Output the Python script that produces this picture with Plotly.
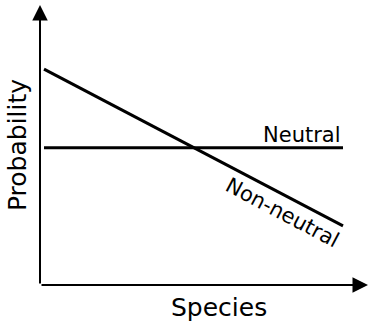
import plotly.graph_objects as go

# Data (normalized schematic values)
species = [0, 10]
neutral = [0.49, 0.49]
non_neutral = [0.771, 0.211]

x_range = [-0.134, 10.836]
y_range = [0, 1]

FONT = "DejaVu Sans"

fig = go.Figure()
fig.add_trace(go.Scatter(x=species, y=neutral, mode="lines",
                         line=dict(color="black", width=3), showlegend=False))
fig.add_trace(go.Scatter(x=species, y=non_neutral, mode="lines",
                         line=dict(color="black", width=3), showlegend=False))

annotations = [
    # y axis with arrow
    dict(x=x_range[0], y=y_range[1], ax=x_range[0], ay=y_range[0],
         xref="x", yref="y", axref="x", ayref="y", text="", showarrow=True,
         arrowhead=2, arrowsize=1.55, arrowwidth=2, arrowcolor="black"),
    # x axis with arrow
    dict(x=x_range[1], y=y_range[0], ax=x_range[0], ay=y_range[0],
         xref="x", yref="y", axref="x", ayref="y", text="", showarrow=True,
         arrowhead=2, arrowsize=1.55, arrowwidth=2, arrowcolor="black"),
    dict(x=10, y=0.536, xref="x", yref="y", text="Neutral", showarrow=False,
         xanchor="right", yanchor="middle", font=dict(family=FONT, size=21, color="black")),
    dict(x=7.99, y=0.257, xref="x", yref="y", text="Non-neutral", showarrow=False,
         textangle=27.8, xanchor="center", yanchor="middle",
         font=dict(family=FONT, size=21, color="black")),
    dict(x=5.85, y=-0.0786, xref="x", yref="paper", text="Species", showarrow=False,
         xanchor="center", yanchor="middle", font=dict(family=FONT, size=25, color="black")),
    dict(x=-0.07, y=0.5, xref="paper", yref="y", text="Probability", showarrow=False,
         textangle=-90, xanchor="center", yanchor="middle",
         font=dict(family=FONT, size=25, color="black")),
]

fig.update_layout(
    width=368, height=325,
    margin=dict(l=40, r=0, t=5, b=40),
    paper_bgcolor="white", plot_bgcolor="white",
    xaxis=dict(range=x_range, visible=False, fixedrange=True),
    yaxis=dict(range=y_range, visible=False, fixedrange=True),
    annotations=annotations,
    showlegend=False,
)

fig.write_html("out.html", config={"displayModeBar": False},
               post_script="document.body.style.margin='0';document.body.style.overflow='hidden';")
